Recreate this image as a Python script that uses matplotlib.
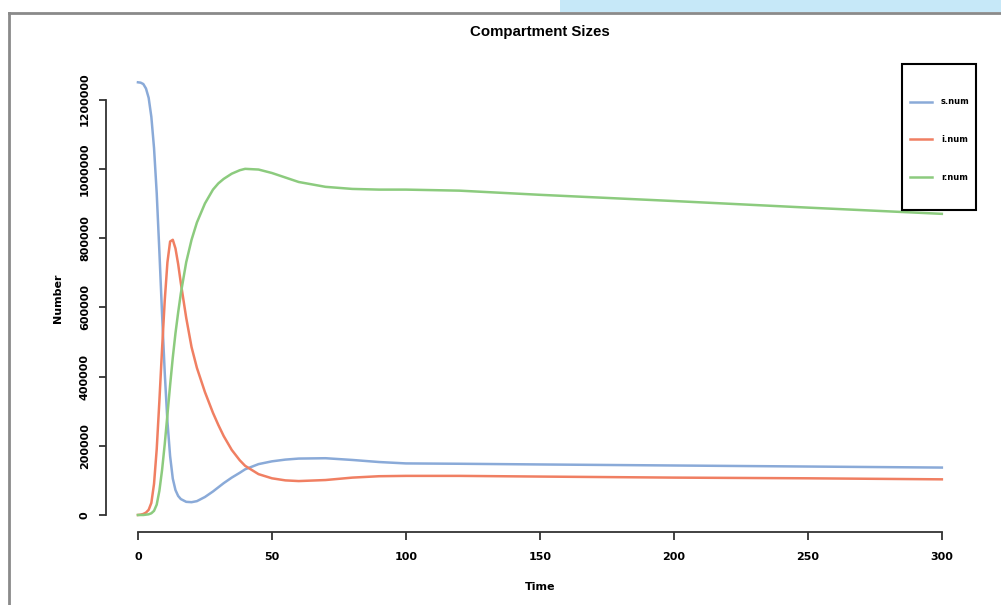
import matplotlib
matplotlib.use("Agg")
import matplotlib.pyplot as plt
from matplotlib.lines import Line2D
from matplotlib.patches import Rectangle

plt.rcParams['font.family'] = ['DejaVu Sans']

# values (thousands)
time = [0, 1, 2, 3, 4, 5, 6, 7, 8, 9, 10, 11, 12, 13, 14, 15, 16, 18, 20, 22,
        25, 28, 30, 32, 35, 38, 40, 45, 50, 55, 60, 70, 80, 90, 100, 120, 150,
        200, 250, 300]
s_num = [1250, 1249, 1245, 1232, 1205, 1150, 1060, 930, 760, 580, 410, 270,
         170, 105, 72, 55, 46, 38, 37, 40, 52, 68, 80, 92, 108, 122, 132, 147,
         155, 160, 163, 164, 159, 153, 149, 148, 146, 143, 140, 137]
i_num = [0, 1, 3, 7, 15, 35, 90, 190, 330, 480, 620, 730, 790, 795, 770, 725,
         670, 570, 485, 425, 355, 295, 260, 228, 188, 158, 142, 118, 106, 100,
         98, 101, 108, 112, 113, 113, 111, 108, 106, 103]
r_num = [0, 0, 0, 1, 2, 5, 12, 30, 70, 130, 205, 290, 375, 455, 525, 585, 640,
         730, 795, 845, 900, 940, 958, 971, 986, 996, 1000, 998, 988, 975, 962,
         948, 942, 940, 940, 937, 925, 907, 888, 870]

series = [('s.num', s_num, '#8AAAD8'),
          ('i.num', i_num, '#F07F62'),
          ('r.num', r_num, '#8CCB7E')]

W, H = 1001, 605
fig = plt.figure(figsize=(W / 100, H / 100), dpi=100)

# screenshot frame and the blue strip at the top
fig.add_artist(Rectangle((560 / W, 1 - 12 / H), 441 / W, 12 / H,
                         transform=fig.transFigure, color='#C6E8F8', lw=0))
fig.add_artist(Line2D([9 / W, 9 / W], [0, 1 - 13 / H], transform=fig.transFigure,
                      color='#8a8a8a', lw=2))
fig.add_artist(Line2D([9 / W, 1], [1 - 13 / H, 1 - 13 / H], transform=fig.transFigure,
                      color='#8a8a8a', lw=2))

ax = fig.add_axes([105.8 / W, 72.7 / H, (974 - 105.8) / W, (532.3 - 65) / H])
for name, vals, col in series:
    ax.plot(time, [v * 1000 for v in vals], color=col, lw=1.8, label=name,
            solid_joinstyle='round')

ax.set_xlim(-12, 312)
ax.set_ylim(-50000, 1300000)
ax.set_xticks([0, 50, 100, 150, 200, 250, 300])
ax.set_yticks([0, 200000, 400000, 600000, 800000, 1000000, 1200000])
ax.set_yticklabels(['0', '200000', '400000', '600000', '800000', '1000000', '1200000'],
                   rotation=90, va='center')
for sp in ['top', 'right']:
    ax.spines[sp].set_visible(False)
ax.spines['bottom'].set_bounds(0, 300)
ax.spines['left'].set_bounds(0, 1200000)
for sp in ['bottom', 'left']:
    ax.spines[sp].set_linewidth(1.3)
    ax.spines[sp].set_color('#333333')
ax.tick_params(direction='out', length=5.4, width=1.3, color='#333333',
               labelsize=8)
ax.tick_params(axis='x', pad=9)
ax.tick_params(axis='y', pad=6)
for lab in ax.get_xticklabels() + ax.get_yticklabels():
    lab.set_fontweight('bold')

ax.set_xlabel('Time', fontsize=8, fontweight='bold', labelpad=14)
ax.set_ylabel('Number', fontsize=8, fontweight='bold', labelpad=12)
fig.text(540 / W, 1 - 32 / H, 'Compartment Sizes', ha='center', va='center',
         fontsize=10.8, fontweight='bold', family='Liberation Sans')

# legend box
fig.add_artist(Rectangle((902 / W, 1 - 210 / H), 74 / W, 146 / H,
                         transform=fig.transFigure, fill=False,
                         edgecolor='black', lw=1.5))
leg = ax.legend(loc='upper left', bbox_to_anchor=(910 / W, 1 - 97.5 / H),
                bbox_transform=fig.transFigure, borderaxespad=0, borderpad=0,
                frameon=False, fontsize=6, handlelength=2.64,
                handletextpad=1.08, labelspacing=3.45)
for t in leg.get_texts():
    t.set_fontweight('bold')

fig.savefig('out.png', dpi=100)
